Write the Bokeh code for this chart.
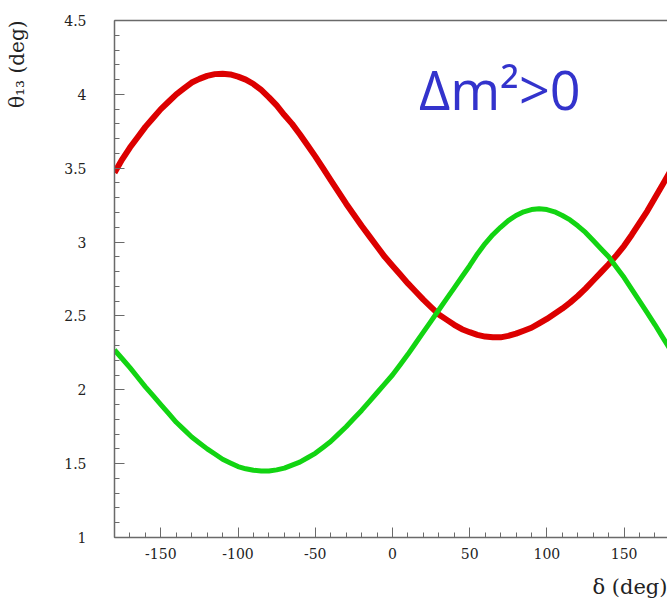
from bokeh.plotting import figure
from bokeh.models import FixedTicker, Label, LinearAxis, Title
from bokeh.embed import file_html
from bokeh.resources import INLINE

# ---- data ----
delta_deg = list(range(-180, 181, 5))
theta13_red = [3.47, 3.56, 3.64, 3.71, 3.78, 3.84, 3.90, 3.95, 4.00, 4.04,
               4.08, 4.105, 4.125, 4.137, 4.14, 4.135, 4.12, 4.10, 4.07, 4.03,
               3.98, 3.925, 3.86, 3.80, 3.73, 3.655, 3.58, 3.50, 3.42, 3.34,
               3.26, 3.185, 3.11, 3.04, 2.97, 2.90, 2.84, 2.78, 2.72, 2.665,
               2.61, 2.56, 2.51, 2.475, 2.44, 2.41, 2.39, 2.372, 2.36, 2.355,
               2.355, 2.365, 2.38, 2.40, 2.42, 2.45, 2.48, 2.515, 2.55, 2.59,
               2.635, 2.685, 2.74, 2.795, 2.85, 2.91, 2.975, 3.05, 3.13, 3.21,
               3.30, 3.39, 3.48]
theta13_green = [2.27, 2.21, 2.15, 2.085, 2.02, 1.96, 1.90, 1.84, 1.78, 1.73,
                 1.68, 1.64, 1.60, 1.565, 1.53, 1.505, 1.48, 1.465, 1.455, 1.45,
                 1.45, 1.458, 1.47, 1.49, 1.51, 1.54, 1.57, 1.61, 1.65, 1.70,
                 1.75, 1.805, 1.86, 1.92, 1.98, 2.04, 2.10, 2.17, 2.24, 2.315,
                 2.39, 2.465, 2.54, 2.615, 2.69, 2.765, 2.84, 2.92, 2.99, 3.05,
                 3.10, 3.145, 3.18, 3.205, 3.22, 3.225, 3.22, 3.205, 3.18, 3.15,
                 3.11, 3.065, 3.01, 2.955, 2.90, 2.83, 2.76, 2.68, 2.60, 2.52,
                 2.44, 2.355, 2.27]
x_major_ticks = [-150, -100, -50, 0, 50, 100, 150]
x_tick_labels = ["-150", "-100", "-50", "0", "50", "100", "150"]
x_minor_ticks = list(range(-180, 181, 10))
y_major_ticks = [1, 1.5, 2, 2.5, 3, 3.5, 4, 4.5]
y_tick_labels = ["1", "1.5", "2", "2.5", "3", "3.5", "4", "4.5"]
y_minor_ticks = [round(1 + 0.1 * i, 1) for i in range(36)]
y_label = "\u03b8\u2081\u2083 (deg)"
x_label = "\u03b4 (deg)"
annotation_text = "\u0394m\u00b2>0"

# ---- layout constants (figure pixels) ----
W, H = 667, 609
FL, FT, FW, FH = 113, 20, 554, 517
X0, X1 = -180, 178.1
Y0, Y1 = 1, 4.5

p = figure(width=W, height=H, output_backend="svg", toolbar_location=None,
           x_range=(X0, X1), y_range=(Y0, Y1),
           min_border_left=FL, min_border_right=0, min_border_top=FT,
           min_border_bottom=H - FT - FH)
p.outline_line_color = None
p.grid.visible = False
p.background_fill_color = "white"
p.border_fill_color = "white"

p.line(delta_deg, theta13_red, line_color="#dc0000", line_width=6, line_join="round")
p.line(delta_deg, theta13_green, line_color="#12d412", line_width=5, line_join="round")

axis_col = "#6a6a6a"
for ax in (p.xaxis[0], p.yaxis[0]):
    ax.axis_line_color = axis_col
    ax.axis_line_width = 1.5
    ax.major_tick_line_color = axis_col
    ax.minor_tick_line_color = axis_col
    ax.major_tick_in = 10
    ax.major_tick_out = 0
    ax.minor_tick_in = 5
    ax.minor_tick_out = 0
    ax.major_label_text_font = "DejaVu Serif"
    ax.major_label_text_font_size = "14px"
    ax.major_label_text_color = "#222222"

p.xaxis[0].ticker = FixedTicker(ticks=x_major_ticks, minor_ticks=x_minor_ticks)
p.xaxis[0].major_label_overrides = {t: s for t, s in zip(x_major_ticks, x_tick_labels)}
p.xaxis[0].major_label_standoff = 10
p.yaxis[0].ticker = FixedTicker(ticks=y_major_ticks, minor_ticks=y_minor_ticks)
p.yaxis[0].major_label_overrides = {t: s for t, s in zip(y_major_ticks, y_tick_labels)}
p.yaxis[0].major_label_standoff = 28
# blank axis label used only as spacing between tick labels and the title
p.yaxis[0].axis_label = " "
p.yaxis[0].axis_label_text_font_size = "20px"
p.yaxis[0].axis_label_standoff = 6

top = LinearAxis(axis_line_color=axis_col, axis_line_width=1.5,
                 major_tick_line_color=None, minor_tick_line_color=None,
                 major_label_text_font_size="0px")
top.ticker = FixedTicker(ticks=[])
p.add_layout(top, "above")

# axis titles
p.add_layout(Title(text=y_label, align="right", text_font="DejaVu Serif",
                   text_font_size="20px", text_font_style="normal",
                   text_color="#222222", standoff=4), "left")
p.add_layout(Title(text=x_label, align="right", text_font="DejaVu Serif",
                   text_font_size="21px", text_font_style="normal",
                   text_color="#222222", standoff=22), "below")

# pixel -> data helpers for the in-plot annotation
sx = FW / (X1 - X0)
sy = FH / (Y1 - Y0)
def dx(px):
    return X0 + (px - FL) / sx
def dy(py):
    return Y1 - (py - FT) / sy

p.add_layout(Label(x=dx(418), y=dy(88), text=annotation_text,
                   text_align="left", text_baseline="middle",
                   text_font="Open Sans", text_font_size="54px",
                   text_color="#3333cc"))

open("out.html", "w").write(file_html(p, INLINE))
